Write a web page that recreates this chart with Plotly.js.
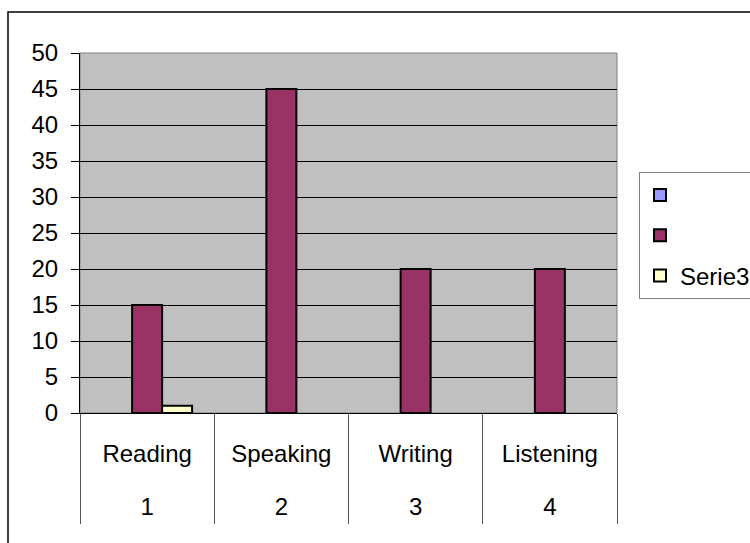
<!DOCTYPE html>
<html><head><meta charset="utf-8">
<script src="https://cdn.plot.ly/plotly-3.0.1.min.js"></script>
<style>body{margin:0;background:#fff}</style>
</head><body><div id="chart" style="width:750px;height:543px"></div>
<script>
const categories = ["Reading","Speaking","Writing","Listening"];
const numbers = ["1","2","3","4"];
const series1 = [null,null,null,null];
const series2 = [15,45,20,20];
const series3 = [1,null,null,null];
const seriesNames = ["","","Serie3"];
const seriesColors = ["#9999FF","#993366","#FFFFCC"];
const yTicks = [0,5,10,15,20,25,30,35,40,45,50];

const FONT = "Liberation Sans, Arial, sans-serif";
const allSeries = [series1, series2, series3];
const traces = allSeries.map((vals, i) => ({
  type: "bar",
  x: categories,
  y: vals,
  name: seriesNames[i],
  legendgroup: "g" + i,
  marker: {color: seriesColors[i], line: {color: "#000", width: 2}},
  hoverinfo: "skip"
}));
// label-only helper traces (draw nothing) so the two label axes exist
traces.push({type: "scatter", mode: "none", x: categories, y: series2,
  xaxis: "x2", yaxis: "y", showlegend: false, hoverinfo: "skip"});
traces.push({type: "scatter", mode: "none", x: numbers, y: series2,
  xaxis: "x3", yaxis: "y", showlegend: false, hoverinfo: "skip"});

const catRange = [-0.5, categories.length - 0.5];

const layout = {
  width: 750, height: 543,
  margin: {l: 80, r: 133, t: 53, b: 130, autoexpand: false},
  paper_bgcolor: "#ffffff",
  plot_bgcolor: "#C0C0C0",
  barmode: "group",
  bargap: 0.33,
  bargroupgap: 0,
  font: {family: FONT, size: 24, color: "#000"},
  showlegend: true,
  legend: {
    x: (639-80)/537, xanchor: "left",
    y: (413-172)/360, yanchor: "top",
    bgcolor: "#ffffff",
    bordercolor: "#808080", borderwidth: 1,
    font: {family: FONT, size: 24, color: "#000"},
    traceorder: "grouped",
    tracegroupgap: 6,
    entrywidth: 100
  },
  xaxis: {
    type: "category", range: catRange,
    showgrid: false,
    showline: true, linecolor: "#000", linewidth: 1,
    ticks: "outside", tickson: "boundaries", ticklen: 110,
    tickcolor: "#555", tickwidth: 1,
    showticklabels: false,
    zeroline: false
  },
  xaxis2: {
    type: "category", range: catRange,
    overlaying: "x", anchor: "y", side: "bottom",
    showgrid: false, showline: false, ticks: "", zeroline: false,
    ticklabelstandoff: 24,
    tickfont: {family: FONT, size: 24, color: "#000"}
  },
  xaxis3: {
    type: "category", range: catRange,
    overlaying: "x", anchor: "y", side: "bottom",
    showgrid: false, showline: false, ticks: "", zeroline: false,
    ticklabelstandoff: 77,
    tickfont: {family: FONT, size: 24, color: "#000"}
  },
  yaxis: {
    range: [0, 50],
    tickvals: yTicks,
    ticktext: yTicks.map(String),
    showgrid: true, gridcolor: "#000", gridwidth: 1,
    showline: true, linecolor: "#000", linewidth: 1,
    ticks: "outside", ticklen: 8, tickcolor: "#000",
    ticklabelstandoff: 8,
    tickfont: {family: FONT, size: 24, color: "#000"},
    zeroline: false
  },
  shapes: [
    {type: "rect", xref: "paper", yref: "paper", x0: 0, x1: 1, y0: 0, y1: 1,
     line: {color: "#808080", width: 1}, layer: "below"},
    {type: "rect", xref: "paper", yref: "paper",
     x0: (8-80)/537, x1: 2, y0: -2, y1: (413-12)/360,
     line: {color: "#000", width: 1.5}, fillcolor: "rgba(0,0,0,0)", layer: "below"}
  ]
};

Plotly.newPlot("chart", traces, layout, {displayModeBar: false, staticPlot: true});
</script></body></html>
